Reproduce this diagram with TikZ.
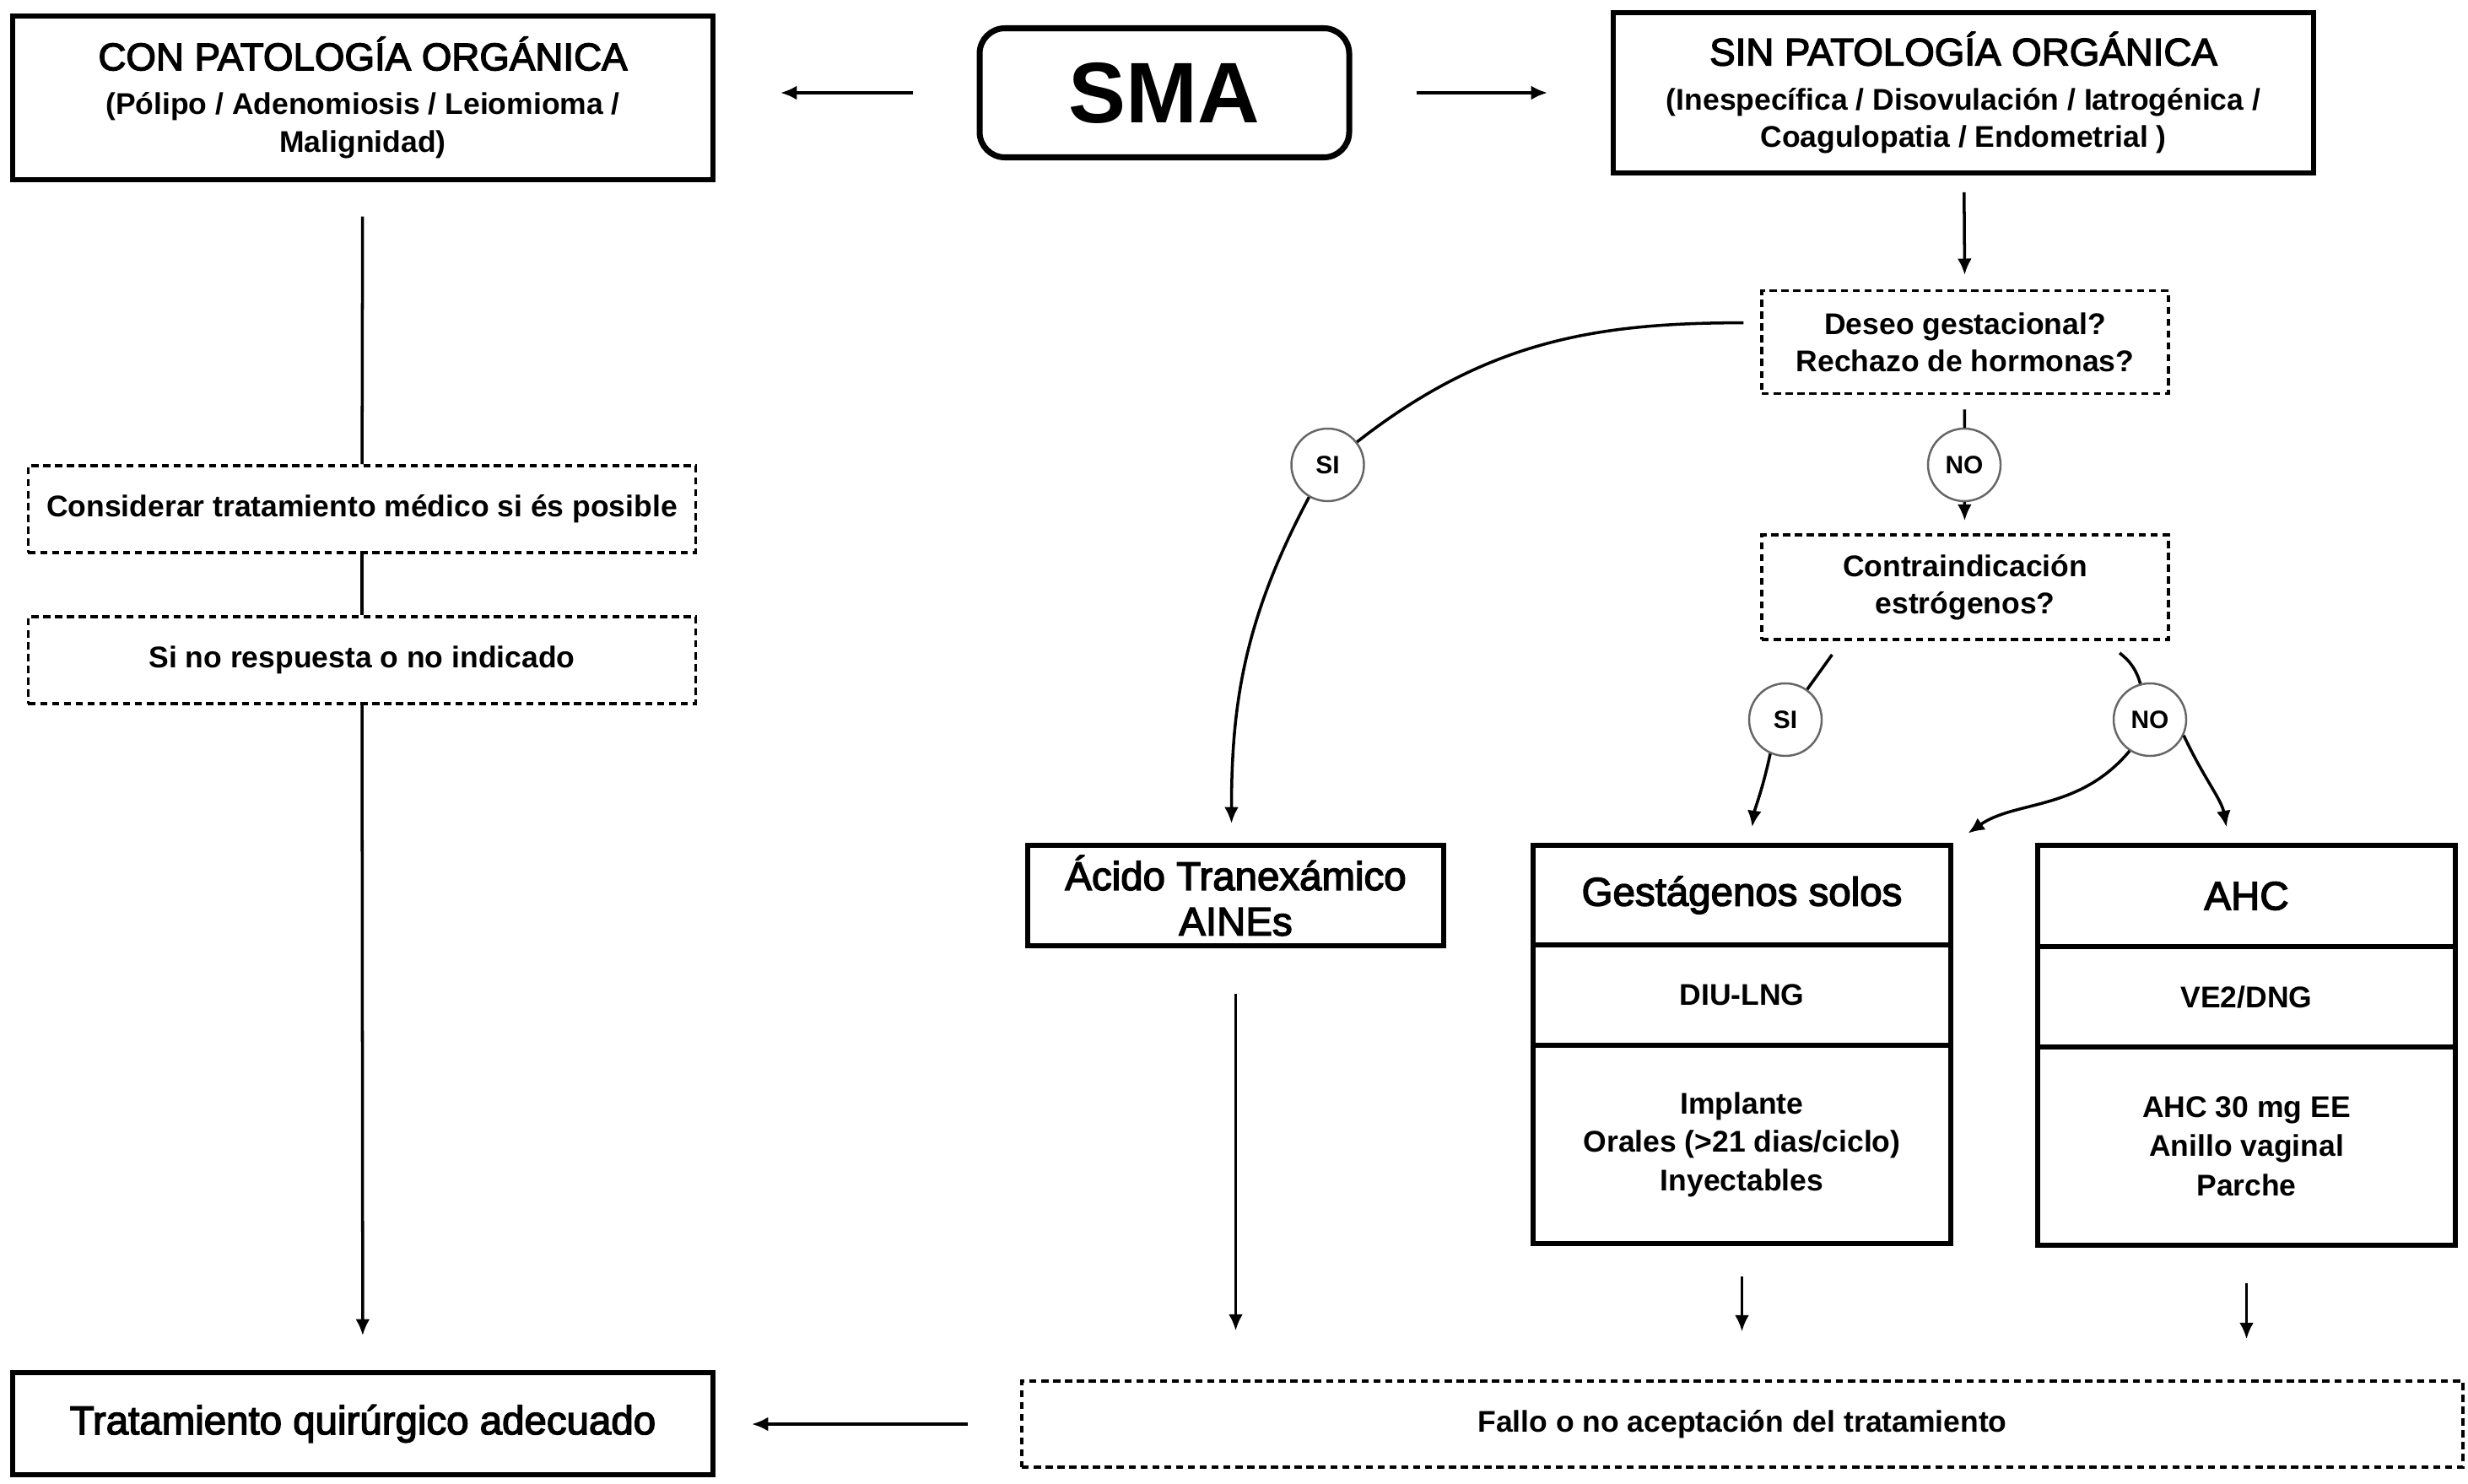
\documentclass[tikz,border=0pt]{standalone}
\usepackage{fontspec}
\setmainfont{Liberation Sans}
\newfontfamily\medfont{Liberation Sans}[FakeBold=3]
\usetikzlibrary{arrows.meta,positioning}
\newcommand{\bigtxt}[1]{{\medfont\mdseries\fontsize{13}{15.3}\selectfont #1}}

\begin{document}
\begin{tikzpicture}[x=1cm,y=1cm,>={Latex[length=5.5pt,width=4.8pt]},
  every node/.style={font=\bfseries\fontsize{10.1}{12.6}\selectfont},
  box/.style={draw,line width=1.7pt,align=center},
  dbox/.style={draw,line width=1pt,dash pattern=on 2.4pt off 1.6pt,align=center},
  cell/.style={box,minimum width=4.95cm,outer sep=0pt},
  big/.style={font=\medfont\fontsize{13.5}{15.3}\selectfont},
  resp/.style={circle,draw=black!60,line width=0.7pt,fill=white,minimum size=0.86cm,
    inner sep=0pt,font=\bfseries\fontsize{8.5}{10}\selectfont},
  link/.style={line width=1pt}]
  \useasboundingbox (0,0) rectangle (29.25,-17.58);

  \node[box,rounded corners=0.3cm,line width=2pt,minimum width=4.38cm,minimum height=1.53cm,
    font=\bfseries\fontsize{29}{30}\selectfont] (sma) at (13.80,-1.10) {SMA};
  \node[box,minimum width=8.3cm,minimum height=1.94cm] (con) at (4.30,-1.157)
    {\bigtxt{CON PATOLOGÍA ORGÁNICA}\\[2.4pt] (Pólipo / Adenomiosis / Leiomioma /\\ Malignidad)};
  \node[box,minimum width=8.3cm,minimum height=1.9cm] (sin) at (23.27,-1.10)
    {\bigtxt{SIN PATOLOGÍA ORGÁNICA}\\[2.4pt] (Inespecífica / Disovulación / Iatrogénica /\\ Coagulopatia / Endometrial )};

  \node[dbox,minimum width=4.82cm,minimum height=1.22cm] (deseo) at (23.29,-4.056)
    {Deseo gestacional?\\Rechazo de hormonas?};
  \node[dbox,minimum width=4.82cm,minimum height=1.24cm] (contra) at (23.29,-6.96)
    {Contraindicación\\estrógenos?};
  \node[dbox,minimum width=7.91cm,minimum height=1.03cm] (consid) at (4.29,-6.035)
    {Considerar tratamiento médico si és posible};
  \node[dbox,minimum width=7.91cm,minimum height=1.03cm] (sino) at (4.29,-7.825)
    {Si no respuesta o no indicado};

  \foreach \nm/\xx/\yy/\lab in {si1/15.735/-5.51/SI,no1/23.28/-5.51/NO,si2/21.16/-8.53/SI,no2/25.48/-8.53/NO}
    \node[resp] (\nm) at (\xx,\yy) {\lab};

  \node[box,big,minimum width=4.93cm,minimum height=1.19cm] (acido) at (14.645,-10.615)
    {Ácido Tranexámico\\AINEs};

  \node[cell,big,minimum height=1.18cm] (gtit) at (20.645,-10.61) {Gestágenos solos};
  \node[cell,minimum height=1.19cm,below=0pt of gtit] (gdiu) {DIU-LNG};
  \node[cell,minimum height=2.35cm,below=0pt of gdiu,font=\bfseries\fontsize{10.1}{13}\selectfont] (gotros)
    {Implante\\Orales (>21 dias/ciclo)\\Inyectables};
  \node[cell,big,minimum height=1.2cm] (atit) at (26.625,-10.62) {AHC};
  \node[cell,minimum height=1.19cm,below=0pt of atit] (adng) {VE2/DNG};
  \node[cell,minimum height=2.35cm,below=0pt of adng,font=\bfseries\fontsize{10.1}{13.2}\selectfont] (aotros)
    {AHC 30 mg EE\\Anillo vaginal\\Parche};

  \node[dbox,minimum width=17.08cm,minimum height=1.02cm] (fallo) at (20.65,-16.88)
    {Fallo o no aceptación del tratamiento};
  \node[box,big,minimum width=8.3cm,minimum height=1.21cm] (trat) at (4.30,-16.875)
    {Tratamiento quirúrgico adecuado};

  \draw[link,->,shorten <=0.76cm,shorten >=0.77cm] (sma.west) -- (sma.west -| con.east);
  \draw[link,->,shorten <=0.76cm,shorten >=0.75cm] (sma.east) -- (sma.east -| sin.west);
  \draw[link,->,shorten <=0.2cm,shorten >=0.17cm] (sin) -- (deseo);

  \draw[link,shorten <=0.41cm] (con) -- (consid);
  \draw[link] (consid) -- (sino);
  \draw[link,->,shorten >=0.41cm] (sino) -- (trat);

  \draw[link,shorten <=0.2cm] ([yshift=0.23cm]deseo.west) to[out=180,in=38] (si1);
  \draw[link,->,shorten >=0.23cm] (si1.-120) to[out=-118,in=90] ([xshift=-0.05cm]acido.north);
  \draw[link,shorten <=0.17cm] (deseo) -- (no1);
  \draw[link,->,shorten >=0.15cm] (no1) -- (contra);

  \draw[link,shorten <=0.2cm] ([xshift=-1.46cm]contra.south) -- (si2);
  \draw[link,->,shorten >=0.22cm] (si2.-114) to[out=-102,in=82] ([xshift=0.09cm]gtit.north);
  \draw[link,shorten <=0.2cm] ([xshift=1.69cm]contra.south) to[out=-45,in=105] (no2);
  \draw[link,->,shorten >=0.25cm] (no2.-123) to[out=-130,in=35] (gtit.north east);
  \draw[link,->,shorten >=0.22cm] (no2.-25) to[out=-65,in=100] ([xshift=-0.2cm]atit.north);

  \draw[link,->,shorten <=0.54cm,shorten >=0.58cm] (acido.south) -- (acido.south |- fallo.north);
  \draw[link,->,shorten <=0.39cm,shorten >=0.57cm] (gotros.south) -- (gotros.south |- fallo.north);
  \draw[link,->,shorten <=0.45cm,shorten >=0.48cm] (aotros.south) -- (aotros.south |- fallo.north);
  \draw[link,->,shorten <=0.62cm,shorten >=0.43cm] (fallo.west) -- (fallo.west -| trat.east);
\end{tikzpicture}
\end{document}
